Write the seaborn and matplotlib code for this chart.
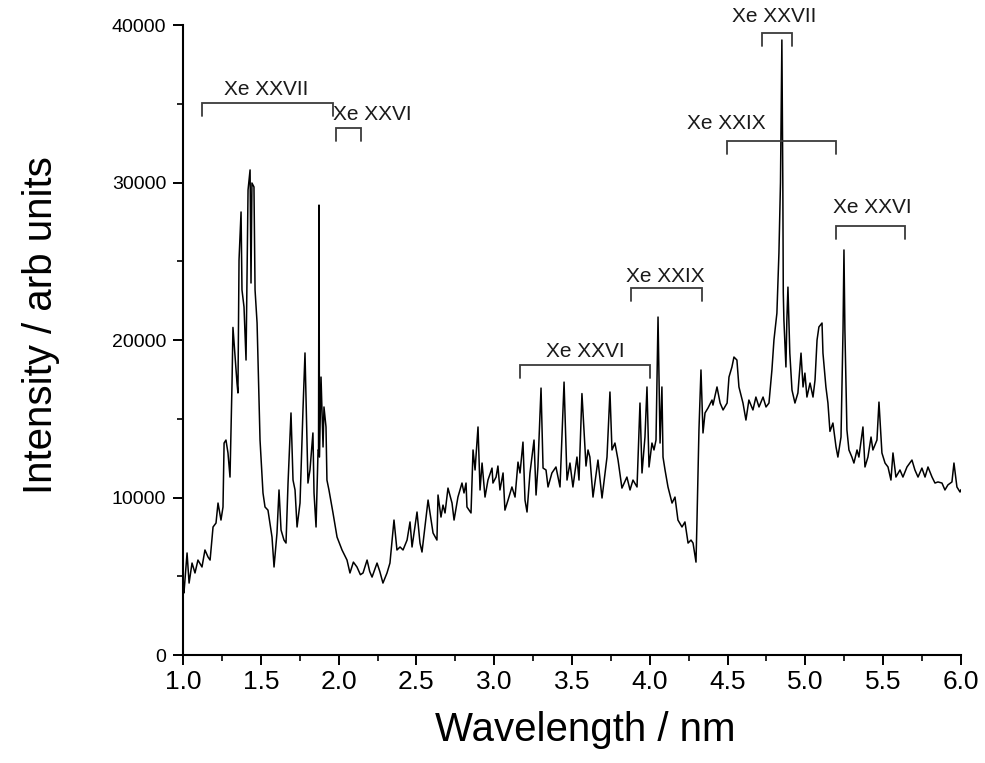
import matplotlib
matplotlib.use("Agg")
import matplotlib.pyplot as plt
import seaborn as sns
import pandas as pd

# ---- spectrum data ----
wavelength = [
    1.000, 1.006, 1.026, 1.039, 1.058, 1.077, 1.096, 1.122, 1.141, 1.161, 1.174, 1.193, 1.212, 1.225,
    1.244, 1.257, 1.264, 1.276, 1.289, 1.302, 1.315, 1.321, 1.347, 1.353, 1.360, 1.373, 1.379, 1.392,
    1.405, 1.418, 1.431, 1.437, 1.443, 1.456, 1.463, 1.476, 1.495, 1.514, 1.527, 1.546, 1.572, 1.585,
    1.604, 1.617, 1.630, 1.649, 1.662, 1.675, 1.694, 1.707, 1.720, 1.733, 1.752, 1.771, 1.784, 1.797,
    1.803, 1.816, 1.835, 1.842, 1.855, 1.868, 1.871, 1.874, 1.877, 1.887, 1.900, 1.906, 1.919, 1.925,
    1.938, 1.964, 1.990, 2.022, 2.054, 2.073, 2.095, 2.118, 2.140, 2.157, 2.183, 2.200, 2.215, 2.247,
    2.265, 2.285, 2.311, 2.330, 2.356, 2.375, 2.395, 2.414, 2.440, 2.459, 2.472, 2.504, 2.523, 2.536,
    2.575, 2.607, 2.632, 2.639, 2.658, 2.671, 2.684, 2.703, 2.729, 2.742, 2.767, 2.793, 2.806, 2.819,
    2.825, 2.851, 2.864, 2.877, 2.896, 2.909, 2.922, 2.941, 2.960, 2.986, 2.992, 3.012, 3.024, 3.037,
    3.057, 3.069, 3.089, 3.114, 3.134, 3.153, 3.166, 3.185, 3.198, 3.211, 3.230, 3.256, 3.269, 3.281,
    3.301, 3.314, 3.333, 3.346, 3.371, 3.397, 3.423, 3.449, 3.468, 3.487, 3.506, 3.532, 3.545, 3.564,
    3.590, 3.603, 3.615, 3.635, 3.667, 3.693, 3.725, 3.744, 3.757, 3.776, 3.796, 3.821, 3.853, 3.873,
    3.892, 3.918, 3.937, 3.950, 3.969, 3.982, 3.995, 4.014, 4.027, 4.040, 4.053, 4.066, 4.078, 4.085,
    4.098, 4.117, 4.143, 4.162, 4.181, 4.207, 4.226, 4.246, 4.265, 4.278, 4.297, 4.303, 4.316, 4.329,
    4.342, 4.355, 4.374, 4.400, 4.406, 4.432, 4.452, 4.471, 4.497, 4.509, 4.528, 4.541, 4.560, 4.573,
    4.599, 4.618, 4.637, 4.663, 4.682, 4.702, 4.728, 4.747, 4.766, 4.785, 4.798, 4.817, 4.830, 4.840,
    4.849, 4.855, 4.858, 4.862, 4.875, 4.881, 4.888, 4.900, 4.914, 4.933, 4.952, 4.972, 4.985, 4.997,
    5.010, 5.030, 5.049, 5.062, 5.075, 5.087, 5.107, 5.113, 5.132, 5.145, 5.158, 5.177, 5.197, 5.209,
    5.229, 5.242, 5.248, 5.254, 5.267, 5.280, 5.299, 5.312, 5.332, 5.344, 5.370, 5.383, 5.402, 5.422,
    5.434, 5.460, 5.473, 5.492, 5.512, 5.531, 5.550, 5.563, 5.582, 5.608, 5.627, 5.653, 5.685, 5.704,
    5.724, 5.749, 5.769, 5.788, 5.814, 5.833, 5.852, 5.878, 5.897, 5.916, 5.942, 5.955, 5.974, 5.994,
    6.000,
]
intensity = [
    4300, 3940, 6480, 4570, 5840, 5210, 6030, 5590, 6670, 6220, 6030, 8130, 8380, 9650,
    8570, 9400, 13460, 13650, 12830, 11300, 17270, 20800, 17270, 16640, 25080, 28130, 23180, 22100,
    18730, 29530, 30800, 23620, 29970, 29720, 23180, 21080, 13650, 10290, 9400, 9200, 7490, 5590,
    7750, 10480, 7940, 7300, 7110, 10920, 15370, 11110, 10480, 8130, 9650, 15560, 19180, 13650,
    10920, 11750, 14100, 10290, 8130, 13020, 13000, 28570, 12570, 17650, 13210, 15750, 14480, 11110,
    10480, 9020, 7490, 6670, 6030, 5210, 5900, 5590, 5100, 5210, 6030, 5300, 4950, 5840,
    5300, 4570, 5210, 5840, 8570, 6670, 6860, 6670, 7300, 8450, 6860, 9080, 7110, 6540,
    9840, 7750, 7300, 10160, 8760, 9520, 9020, 10600, 9650, 8570, 10030, 10920, 10290, 10920,
    9400, 9020, 13020, 11750, 14480, 10480, 12190, 10030, 11110, 11870, 10920, 11300, 12000, 10480,
    11560, 9200, 9840, 10670, 10030, 12250, 11560, 13520, 9840, 9080, 11560, 13650, 10160, 11940,
    16950, 11870, 11750, 10670, 11560, 11940, 10670, 17330, 11110, 12190, 10670, 12570, 11110, 16600,
    12000, 13020, 12570, 10030, 12380, 9970, 12570, 16700, 13020, 13460, 12380, 10600, 11300, 10480,
    11110, 10670, 16000, 11560, 13840, 17020, 11940, 13460, 13020, 13650, 21460, 13460, 17020, 12570,
    11750, 10670, 9650, 10030, 8570, 8130, 8450, 7110, 7300, 7110, 5900, 8380, 14290, 18100,
    14100, 15370, 15680, 16190, 15870, 17020, 16000, 15560, 16000, 17650, 18290, 18920, 18730, 17020,
    16000, 14920, 16190, 15560, 16380, 15750, 16380, 15750, 16000, 18100, 20000, 21710, 25520, 30000,
    39050, 30000, 23000, 21270, 18290, 21270, 23360, 19170, 16820, 16000, 16640, 19170, 17020, 17900,
    16380, 17270, 16380, 17460, 20000, 20830, 21080, 19170, 17020, 16000, 14200, 14730, 13210, 12570,
    13840, 20640, 25720, 20640, 14290, 13020, 12570, 12190, 13020, 12570, 14480, 11940, 12570, 13840,
    13020, 13650, 16060, 12830, 12190, 11940, 11110, 12830, 11300, 11750, 11300, 11940, 12380, 11750,
    11300, 11870, 11300, 11940, 11300, 10920, 10990, 10920, 10480, 10800, 10990, 12190, 10670, 10350,
    10500,
]

# ---- annotation brackets (ion stage labels) ----
ion_labels = ["Xe XXVII", "Xe XXVI", "Xe XXVI", "Xe XXIX", "Xe XXVII", "Xe XXIX", "Xe XXVI"]
bracket_start = [1.122, 1.983, 3.166, 3.879, 4.721, 4.496, 5.197]
bracket_end = [1.964, 2.144, 4.001, 4.335, 4.914, 5.197, 5.640]
bracket_level = [35050, 33460, 18410, 23300, 39500, 32640, 27240]
label_x = [1.533, 2.215, 3.583, 4.098, 4.798, 4.490, 5.428]
label_y = [35900, 34300, 19250, 24050, 40550, 33750, 28400]

x_ticks = [1.0, 1.5, 2.0, 2.5, 3.0, 3.5, 4.0, 4.5, 5.0, 5.5, 6.0]
y_ticks = [0, 10000, 20000, 30000, 40000]

sns.set_style("ticks")
plt.rcParams["font.family"] = ["Liberation Sans", "DejaVu Sans"]

fig = plt.figure(figsize=(9.85, 7.63), dpi=100)
ax = fig.add_axes([0.1858, 0.1415, 0.7898, 0.8257])

df = pd.DataFrame({"Wavelength": wavelength, "Intensity": intensity})
sns.lineplot(data=df, x="Wavelength", y="Intensity", ax=ax, color="black",
             linewidth=1.1, estimator=None, sort=False)

leg = 830  # bracket leg length in data units
for lab, x0, x1, yl, tx, ty in zip(ion_labels, bracket_start, bracket_end,
                                    bracket_level, label_x, label_y):
    ax.plot([x0, x0, x1, x1], [yl - leg, yl, yl, yl - leg], color="#3a3a3a",
            linewidth=1.3, clip_on=False, solid_joinstyle="miter")
    ax.text(tx, ty, lab, ha="center", va="center", fontsize=15, color="#1a1a1a",
            clip_on=False)

ax.set_xlim(1.0, 6.0)
ax.set_ylim(0, 40000)
ax.set_xticks(x_ticks)
ax.set_xticklabels([f"{v:.1f}" for v in x_ticks], fontsize=19, color="black")
ax.set_yticks(y_ticks)
ax.set_yticklabels([str(v) for v in y_ticks], fontsize=14, color="black")
ax.set_xticks([1.25 + 0.5 * i for i in range(10)], minor=True)
ax.set_yticks([5000, 15000, 25000, 35000], minor=True)

ax.tick_params(axis="both", which="major", direction="out", length=7, width=1.4,
               color="black")
ax.tick_params(axis="both", which="minor", direction="out", length=4, width=1.2,
               color="black")
ax.tick_params(axis="x", pad=4)
ax.tick_params(axis="y", pad=5)

ax.set_xlabel("Wavelength / nm", fontsize=29, color="black")
ax.set_ylabel("Intensity / arb units", fontsize=29, color="black")
ax.xaxis.set_label_coords(0.517, -0.089)
ax.yaxis.set_label_coords(-0.158, 0.524)

sns.despine(ax=ax)
for s in ["left", "bottom"]:
    ax.spines[s].set_linewidth(1.5)
    ax.spines[s].set_color("black")

fig.savefig("out.png", dpi=100)
